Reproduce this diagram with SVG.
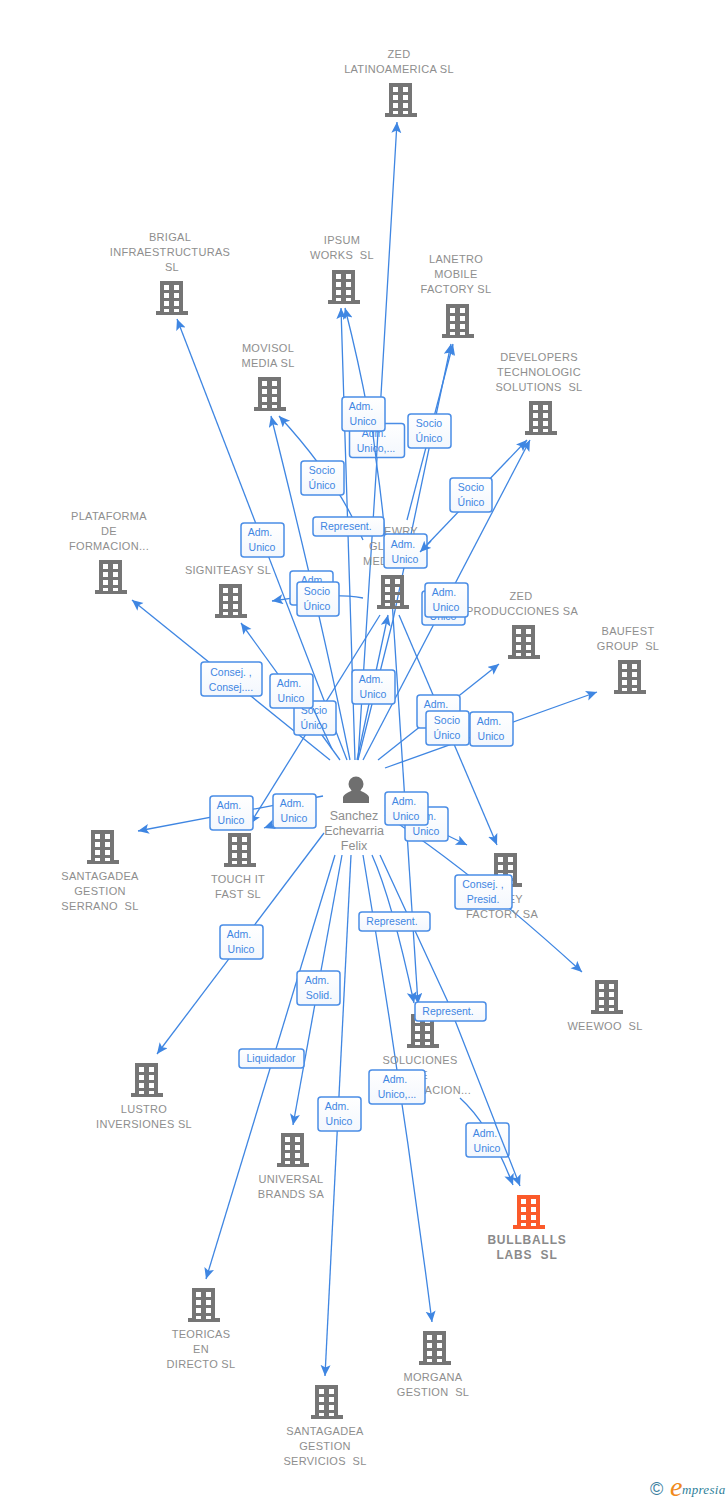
<svg xmlns="http://www.w3.org/2000/svg" width="728" height="1500" viewBox="0 0 728 1500">
<style>
.e{fill:none;stroke:#3f86e2;stroke-width:1.3;marker-end:url(#a)}
.p{fill:none;stroke:#3f86e2;stroke-width:1.3}
.n{font:11px "Liberation Sans",Arial,sans-serif;fill:#8e8e8e;text-anchor:middle;letter-spacing:.3px;white-space:pre}
.b{font:bold 12px "Liberation Sans",Arial,sans-serif;fill:#8a8a8a;text-anchor:middle;letter-spacing:.8px;white-space:pre}
.l{font:10.5px "Liberation Sans",Arial,sans-serif;fill:#3f86e2;text-anchor:middle}
.r{fill:url(#g);stroke:#4a8de6;stroke-width:1.5}
.f{font:12.500px "Liberation Sans",Arial,sans-serif;fill:#8e8e8e;text-anchor:middle}
</style>
<defs>
<linearGradient id="g" x1="0" y1="0" x2="0" y2="1"><stop offset="0" stop-color="#fff"/><stop offset="1" stop-color="#f3f7fd"/></linearGradient>
<marker id="a" markerUnits="userSpaceOnUse" markerWidth="14" markerHeight="12" refX="11" refY="5" orient="auto"><path d="M0,0L11,5L0,10L2.5,5z" fill="#3f86e2"/></marker>
<marker id="s" markerUnits="userSpaceOnUse" markerWidth="14" markerHeight="12" refX="0" refY="5" orient="auto"><path d="M11,0L0,5L11,10L8.5,5z" fill="#3f86e2"/></marker>
<symbol id="b" viewBox="0 0 32 34" overflow="visible"><path fill-rule="evenodd" d="M4,0H27V30H32V34H0V30H4ZM8,4V9H13V4ZM18,4V9H23V4ZM8,12V17H13V12ZM18,12V17H23V12ZM8,20V25H13V20ZM18,20V25H23V20ZM8,28V31H13V28ZM18,28V31H23V28Z" fill="currentColor"/></symbol>
</defs>
<rect width="728" height="1500" fill="#fff"/>
<g id="connectors">
<path class="e" d="M358,760L381,395L397,122"/>
<path class="e" d="M347,760L177,319"/>
<path class="e" d="M350,760Q322,620 271,416"/>
<path class="e" d="M363,540Q338,480 279,416"/>
<path class="e" d="M355,760L341,308"/>
<path class="e" d="M385,536Q376,430 345,308"/>
<path class="e" d="M407,520L453,344"/>
<path class="e" d="M358,760L393,620L451,344"/>
<path class="e" d="M420,552L527,440"/>
<path class="e" d="M363,760L530,440"/>
<path class="e" d="M330,760L132,600"/>
<path class="e" d="M340,760L241,623"/>
<path class="e" d="M363,598Q330,592 272,601"/>
<path class="e" d="M380,615L250,824"/>
<path class="e" d="M357,760L388,615"/>
<path class="e" d="M399,615L497,845"/>
<path class="e" d="M392,600L418,1004"/>
<path class="e" d="M378,760L499,664"/>
<path class="e" d="M385,768L597,692"/>
<path class="e" d="M323,796L138,831"/>
<path class="e" d="M300,815L264,828"/>
<path class="e" d="M385,815Q470,870 582,972"/>
<path class="e" d="M385,805L467,845"/>
<path class="e" d="M324,833L157,1054"/>
<path class="e" d="M342,855L293,1125"/>
<path class="e" d="M335,855L206,1279"/>
<path class="e" d="M351,855L325,1376"/>
<path class="e" d="M363,855Q402,1087 432,1322"/>
<path class="e" d="M372,855Q392,900 414,1003"/>
<path class="e" d="M380,855L447,1000L520,1186"/>
<path class="e" d="M460,1098Q490,1125 513,1185"/>
</g>
<g id="n1" color="#757575"><use href="#b" x="385" y="83" width="32" height="34"/><text class="n" x="399" y="58">ZED</text><text class="n" x="399" y="73">LATINOAMERICA SL</text></g>
<g id="n2" color="#757575"><use href="#b" x="156" y="281" width="32" height="34"/><text class="n" x="170" y="241">BRIGAL</text><text class="n" x="170" y="256">INFRAESTRUCTURAS</text><text class="n" x="172" y="271">SL</text></g>
<g id="n3" color="#757575"><use href="#b" x="328" y="270" width="32" height="34"/><text class="n" x="342" y="244">IPSUM</text><text class="n" x="342" y="259">WORKS  SL</text></g>
<g id="n4" color="#757575"><use href="#b" x="442" y="304" width="32" height="34"/><text class="n" x="456" y="263">LANETRO</text><text class="n" x="456" y="278">MOBILE</text><text class="n" x="456" y="293">FACTORY SL</text></g>
<g id="n5" color="#757575"><use href="#b" x="254" y="377" width="32" height="34"/><text class="n" x="268" y="352">MOVISOL</text><text class="n" x="268" y="367">MEDIA SL</text></g>
<g id="n6" color="#757575"><use href="#b" x="525" y="401" width="32" height="34"/><text class="n" x="539" y="361">DEVELOPERS</text><text class="n" x="539" y="376">TECHNOLOGIC</text><text class="n" x="539" y="391">SOLUTIONS  SL</text></g>
<g id="n7" color="#757575"><use href="#b" x="95" y="560" width="32" height="34"/><text class="n" x="109" y="520">PLATAFORMA</text><text class="n" x="109" y="535">DE</text><text class="n" x="109" y="550">FORMACION...</text></g>
<g id="n8" color="#757575"><use href="#b" x="215" y="584" width="32" height="34"/><text class="n" x="228" y="574">SIGNITEASY SL</text></g>
<g id="n9" color="#757575"><use href="#b" x="377" y="575" width="32" height="34"/><text class="n" x="384" y="535" style="text-anchor:start">EWRY</text><text class="n" x="369" y="550" style="text-anchor:start">GL</text><text class="n" x="363" y="565" style="text-anchor:start">MED</text></g>
<g id="n10" color="#757575"><use href="#b" x="508" y="625" width="32" height="34"/><text class="n" x="521" y="600">ZED</text><text class="n" x="522" y="615">PRODUCCIONES SA</text></g>
<g id="n11" color="#757575"><use href="#b" x="614" y="660" width="32" height="34"/><text class="n" x="628" y="635">BAUFEST</text><text class="n" x="628" y="650">GROUP  SL</text></g>
<g id="n12" color="#757575"><use href="#b" x="87" y="830" width="32" height="34"/><text class="n" x="100" y="880">SANTAGADEA</text><text class="n" x="100" y="895">GESTION</text><text class="n" x="100" y="910">SERRANO  SL</text></g>
<g id="n13" color="#757575"><use href="#b" x="224" y="833" width="32" height="34"/><text class="n" x="238" y="883">TOUCH IT</text><text class="n" x="238" y="898">FAST SL</text></g>
<g id="n14" color="#757575"><use href="#b" x="490" y="853" width="32" height="34"/><text class="n" x="502" y="903">MONEY</text><text class="n" x="502" y="918">FACTORY SA</text></g>
<g id="n15" color="#757575"><use href="#b" x="591" y="980" width="32" height="34"/><text class="n" x="605" y="1030">WEEWOO  SL</text></g>
<g id="n16" color="#757575"><use href="#b" x="131" y="1063" width="32" height="34"/><text class="n" x="144" y="1113">LUSTRO</text><text class="n" x="144" y="1128">INVERSIONES SL</text></g>
<g id="n17" color="#757575"><use href="#b" x="407" y="1014" width="32" height="34"/><text class="n" x="420" y="1064">SOLUCIONES</text><text class="n" x="420" y="1079">DE</text><text class="n" x="471" y="1094" style="text-anchor:end">FORMACION...</text></g>
<g id="n18" color="#757575"><use href="#b" x="277" y="1133" width="32" height="34"/><text class="n" x="291" y="1183">UNIVERSAL</text><text class="n" x="291" y="1198">BRANDS SA</text></g>
<g id="n19" color="#fb5a2a"><use href="#b" x="513" y="1195" width="32" height="34"/><text class="b" x="527" y="1244">BULLBALLS</text><text class="b" x="527" y="1259">LABS  SL</text></g>
<g id="n20" color="#757575"><use href="#b" x="188" y="1288" width="32" height="34"/><text class="n" x="201" y="1338">TEORICAS</text><text class="n" x="201" y="1353">EN</text><text class="n" x="201" y="1368">DIRECTO SL</text></g>
<g id="n21" color="#757575"><use href="#b" x="419" y="1331" width="32" height="34"/><text class="n" x="433" y="1381">MORGANA</text><text class="n" x="433" y="1396">GESTION  SL</text></g>
<g id="n22" color="#757575"><use href="#b" x="311" y="1385" width="32" height="34"/><text class="n" x="325" y="1435">SANTAGADEA</text><text class="n" x="325" y="1450">GESTION</text><text class="n" x="325" y="1465">SERVICIOS  SL</text></g>
<g id="person"><circle cx="356" cy="784" r="7.500" fill="#6f6f6f"/><path d="M343,803V797Q344,794 351,791L353,788H359L361,791Q368,794 369,797V803Z" fill="#6f6f6f"/><text class="f" x="354" y="820">Sanchez</text><text class="f" x="354" y="835">Echevarria</text><text class="f" x="354" y="850">Felix</text></g>
<g id="labels">
<g><rect class="r" x="349.500" y="423.500" width="55" height="34" rx="3"/><text class="l" x="374" y="437">Adm.</text><text class="l" x="376" y="452">Unico,...</text></g>
<path class="p" d="M378,431L376.500,458M372.500,431L376,458"/>
<g><rect class="r" x="342" y="397" width="43" height="34" rx="3"/><text class="l" x="361" y="410">Adm.</text><text class="l" x="363" y="425">Unico</text></g>
<g><rect class="r" x="408" y="414" width="43" height="34" rx="3"/><text class="l" x="429" y="427">Socio</text><text class="l" x="429" y="442">Único</text></g>
<g><rect class="r" x="301" y="461" width="43" height="34" rx="3"/><text class="l" x="322" y="474">Socio</text><text class="l" x="322" y="489">Único</text></g>
<g><rect class="r" x="450" y="478" width="42" height="34" rx="3"/><text class="l" x="471" y="491">Socio</text><text class="l" x="471" y="506">Único</text></g>
<g><rect class="r" x="313" y="517" width="71" height="19" rx="3"/><text class="l" x="346" y="530">Represent.</text></g>
<g><rect class="r" x="384" y="534" width="43" height="34" rx="3"/><text class="l" x="403" y="548">Adm.</text><text class="l" x="405" y="563">Unico</text></g>
<path class="e" d="M431,541L420,552"/>
<g><rect class="r" x="241" y="523" width="43" height="34" rx="3"/><text class="l" x="260" y="536">Adm.</text><text class="l" x="262" y="551">Unico</text></g>
<g><rect class="r" x="290" y="571" width="43" height="34" rx="3"/><text class="l" x="313" y="584">Adm.</text></g>
<g><rect class="r" x="297" y="582" width="42" height="34" rx="3"/><text class="l" x="317" y="595">Socio</text><text class="l" x="317" y="610">Único</text></g>
<g><rect class="r" x="422" y="591" width="43" height="34" rx="3"/><text class="l" x="443" y="620">Unico</text></g>
<g><rect class="r" x="425" y="583" width="43" height="34" rx="3"/><text class="l" x="444" y="596">Adm.</text><text class="l" x="446" y="611">Unico</text></g>
<g><rect class="r" x="201" y="662" width="61" height="34" rx="3"/><text class="l" x="231" y="676">Consej. ,</text><text class="l" x="231" y="691">Consej....</text></g>
<g><rect class="r" x="294" y="701" width="42" height="34" rx="3"/><text class="l" x="314" y="714">Socio</text><text class="l" x="314" y="729">Único</text></g>
<path class="p" d="M313,708L332,749"/>
<g><rect class="r" x="270" y="674" width="43" height="34" rx="3"/><text class="l" x="289" y="687">Adm.</text><text class="l" x="291" y="702">Unico</text></g>
<g><rect class="r" x="352" y="670" width="43" height="34" rx="3"/><text class="l" x="371" y="683">Adm.</text><text class="l" x="373" y="698">Unico</text></g>
<g><rect class="r" x="417" y="695" width="43" height="33" rx="3"/><text class="l" x="436" y="708">Adm.</text></g>
<g><rect class="r" x="426" y="711" width="43" height="34" rx="3"/><text class="l" x="447" y="724">Socio</text><text class="l" x="447" y="739">Único</text></g>
<g><rect class="r" x="470" y="712" width="43" height="34" rx="3"/><text class="l" x="489" y="725">Adm.</text><text class="l" x="491" y="740">Unico</text></g>
<g><rect class="r" x="273" y="794" width="43" height="34" rx="3"/><text class="l" x="292" y="807">Adm.</text><text class="l" x="294" y="822">Unico</text></g>
<g><rect class="r" x="210" y="796" width="43" height="34" rx="3"/><text class="l" x="229" y="809">Adm.</text><text class="l" x="231" y="824">Unico</text></g>
<g><rect class="r" x="405" y="807" width="43" height="34" rx="3"/><text class="l" x="424" y="820">Adm.</text><text class="l" x="426" y="835">Unico</text></g>
<g><rect class="r" x="385" y="792" width="43" height="33" rx="3"/><text class="l" x="404" y="805">Adm.</text><text class="l" x="406" y="820">Unico</text></g>
<g><rect class="r" x="455" y="875" width="57" height="34" rx="3"/><text class="l" x="483" y="888">Consej. ,</text><text class="l" x="483" y="903">Presid.</text></g>
<g><rect class="r" x="359" y="912" width="71" height="19" rx="3"/><text class="l" x="392" y="925">Represent.</text></g>
<g><rect class="r" x="220" y="925" width="43" height="34" rx="3"/><text class="l" x="239" y="938">Adm.</text><text class="l" x="241" y="953">Unico</text></g>
<g><rect class="r" x="297" y="971" width="43" height="34" rx="3"/><text class="l" x="317" y="984">Adm.</text><text class="l" x="319" y="999">Solid.</text></g>
<g><rect class="r" x="239" y="1049" width="65" height="19" rx="3"/><text class="l" x="271" y="1062">Liquidador</text></g>
<g><rect class="r" x="415" y="1002" width="71" height="19" rx="3"/><text class="l" x="448" y="1015">Represent.</text></g>
<g><rect class="r" x="369" y="1070" width="56" height="34" rx="3"/><text class="l" x="395" y="1083">Adm.</text><text class="l" x="397" y="1098">Unico,...</text></g>
<g><rect class="r" x="318" y="1097" width="43" height="34" rx="3"/><text class="l" x="337" y="1110">Adm.</text><text class="l" x="339" y="1125">Unico</text></g>
<g><rect class="r" x="466" y="1123" width="43" height="34" rx="3"/><text class="l" x="485" y="1137">Adm.</text><text class="l" x="487" y="1152">Unico</text></g>
<path class="p" d="M495,1123L508.500,1157"/>
</g>
<g id="logo"><text x="650" y="1495" style="font:18px 'Liberation Sans',Arial,sans-serif;fill:#3d7f9f">©</text><text x="670" y="1496" style="font:italic 28px 'Liberation Serif',serif;fill:#f08a1c">e</text><text x="682" y="1494" style="font:italic 13px 'Liberation Serif',serif;fill:#2f7f9a;letter-spacing:.3px">mpresia</text></g>
</svg>
